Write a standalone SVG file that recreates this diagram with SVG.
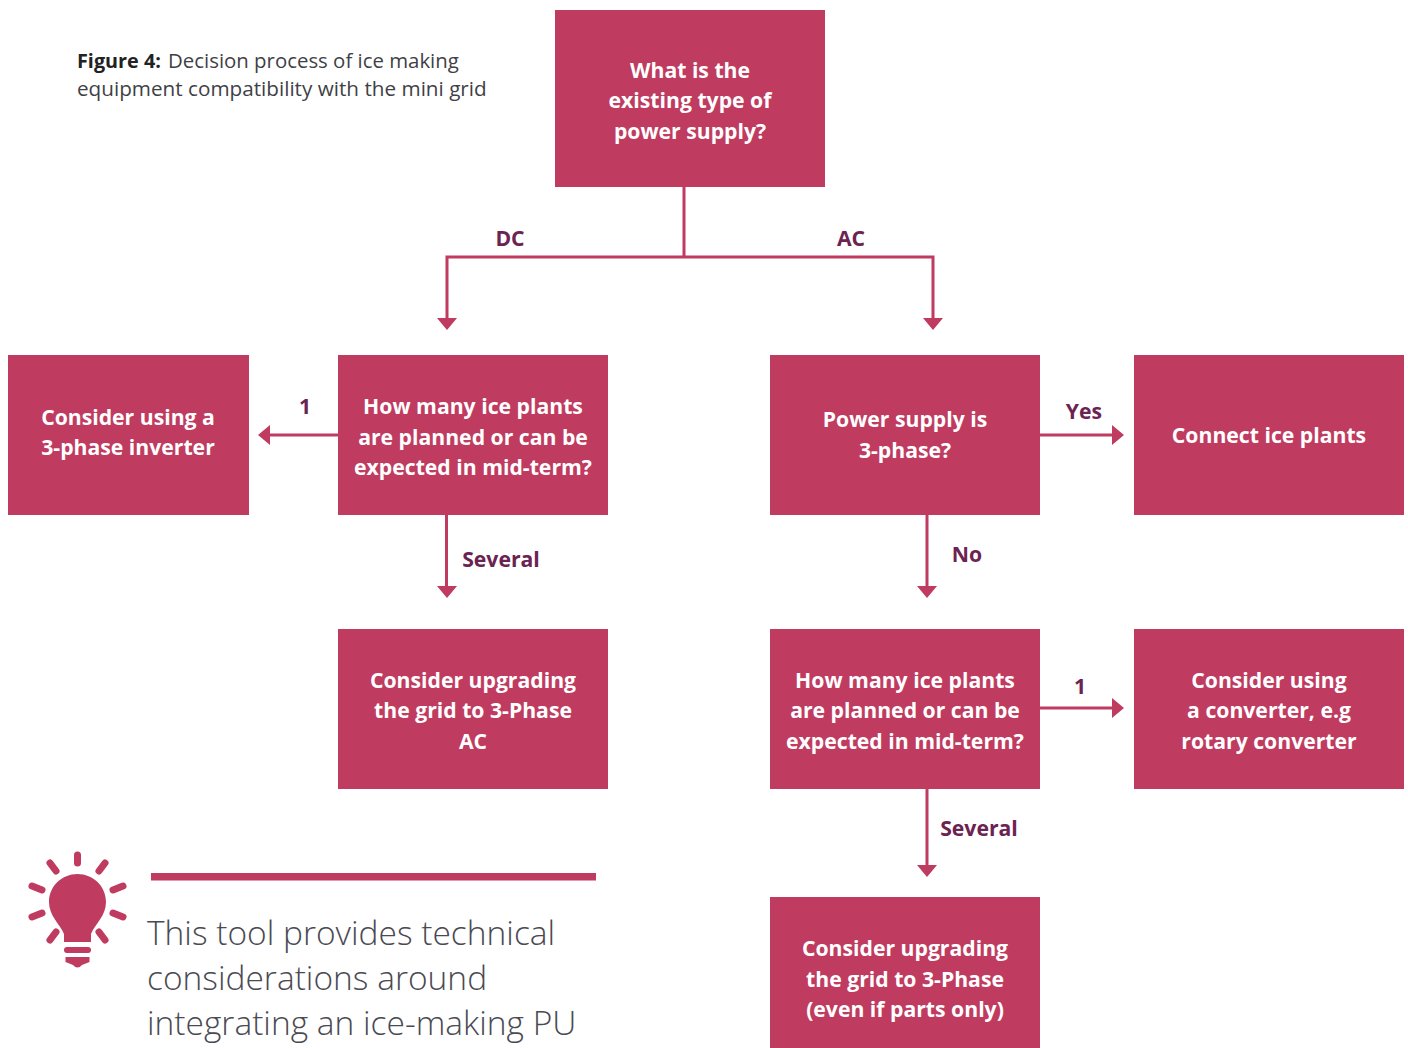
<svg xmlns="http://www.w3.org/2000/svg" width="1408" height="1048" viewBox="0 0 1408 1048">
<style>
.n{fill:#bf3b60}
.t{font-family:"Open Sans","Noto Sans",sans-serif;font-weight:700;font-size:21.2px;fill:#fff;text-anchor:middle}
.l{font-family:"Open Sans","Noto Sans",sans-serif;font-weight:700;font-size:21.2px;fill:#6b2351;text-anchor:middle}
.c{fill:none;stroke:#bf3b60;stroke-width:3}
.a{fill:#bf3b60}
.f{font-family:"Open Sans","Noto Sans",sans-serif;font-size:20.7px;fill:#3f3f46}
.b{font-family:"Open Sans","Noto Sans",sans-serif;font-weight:300;font-size:33.5px;fill:#4a4a52}
</style>
<rect width="1408" height="1048" fill="#fff"/>
<g id="caption"><text class="f" x="77" y="68"><tspan font-weight="700" fill="#222" font-size="19.800">Figure 4:</tspan><tspan x="168" font-size="20.400">Decision process of ice making</tspan></text><text class="f" x="77" y="96">equipment compatibility with the mini grid</text></g>
<g id="connectors">
<path class="c" d="M684 187V257M447 319V257H933V319M338 435H268M446.500 515V587M1040 435H1114M927 515V587M1040 708H1114M927 789V866"/>
<path class="a" d="M437 318H457L447 330ZM923 318H943L933 330ZM270 425V445L258 435ZM437 586H457L447 598ZM1112 425V445L1124 435ZM917 586H937L927 598ZM1112 698V718L1124 708ZM917 865H937L927 877Z"/>
</g>
<g id="edge-labels"><text class="l" x="510" y="246">DC</text><text class="l" x="851" y="246">AC</text><text class="l" x="305" y="414">1</text><text class="l" x="501" y="567">Several</text><text class="l" x="1084" y="419">Yes</text><text class="l" x="967" y="562">No</text><text class="l" x="1080" y="694">1</text><text class="l" x="979" y="836">Several</text></g>
<g id="n1"><rect class="n" x="555" y="10" width="270" height="177"/><text class="t" x="690" y="78">What is the</text><text class="t" x="690" y="108">existing type of</text><text class="t" x="690" y="139">power supply?</text></g>
<g id="n2"><rect class="n" x="338" y="355" width="270" height="160"/><text class="t" x="473" y="414">How many ice plants</text><text class="t" x="473" y="445">are planned or can be</text><text class="t" x="473" y="475">expected in mid-term?</text></g>
<g id="n3"><rect class="n" x="8" y="355" width="241" height="160"/><text class="t" x="128" y="425">Consider using a</text><text class="t" x="128" y="455">3-phase inverter</text></g>
<g id="n4"><rect class="n" x="770" y="355" width="270" height="160"/><text class="t" x="905" y="427">Power supply is</text><text class="t" x="905" y="458">3-phase?</text></g>
<g id="n5"><rect class="n" x="1134" y="355" width="270" height="160"/><text class="t" x="1269" y="443">Connect ice plants</text></g>
<g id="n6"><rect class="n" x="338" y="629" width="270" height="160"/><text class="t" x="473" y="688">Consider upgrading</text><text class="t" x="473" y="718">the grid to 3-Phase</text><text class="t" x="473" y="749">AC</text></g>
<g id="n7"><rect class="n" x="770" y="629" width="270" height="160"/><text class="t" x="905" y="688">How many ice plants</text><text class="t" x="905" y="718">are planned or can be</text><text class="t" x="905" y="749">expected in mid-term?</text></g>
<g id="n8"><rect class="n" x="1134" y="629" width="270" height="160"/><text class="t" x="1269" y="688">Consider using</text><text class="t" x="1269" y="718">a converter, e.g</text><text class="t" x="1269" y="749">rotary converter</text></g>
<g id="n9"><rect class="n" x="770" y="897" width="270" height="151"/><text class="t" x="905" y="956">Consider upgrading</text><text class="t" x="905" y="987">the grid to 3-Phase</text><text class="t" x="905" y="1017">(even if parts only)</text></g>
<g id="tip">
<rect class="a" x="151" y="873" width="445" height="7.5"/>
<g class="a"><path d="M77.500 874C93 874 106 886 106 902C106 916 95 924 91 934V942H64V934C60 924 49 916 49 902C49 886 62 874 77.500 874Z"/><rect x="64" y="947" width="27" height="6" rx="3"/><path d="M65.500 957H89.500V962L82 965Q77.500 970 73 965L65.500 962Z"/></g>
<path d="M77.500 855V863M50 863 56 871M105 863 99 871M32 886 42 890M123 886 113 890M32 917 42 913M123 917 113 913M50 940 56 932M105 940 99 932" stroke="#bf3b60" stroke-width="7" stroke-linecap="round" fill="none"/>
<text class="b" x="147" y="945">This tool provides technical</text><text class="b" x="147" y="990">considerations around</text><text class="b" x="147" y="1035">integrating an ice-making PU</text>
</g>
</svg>
